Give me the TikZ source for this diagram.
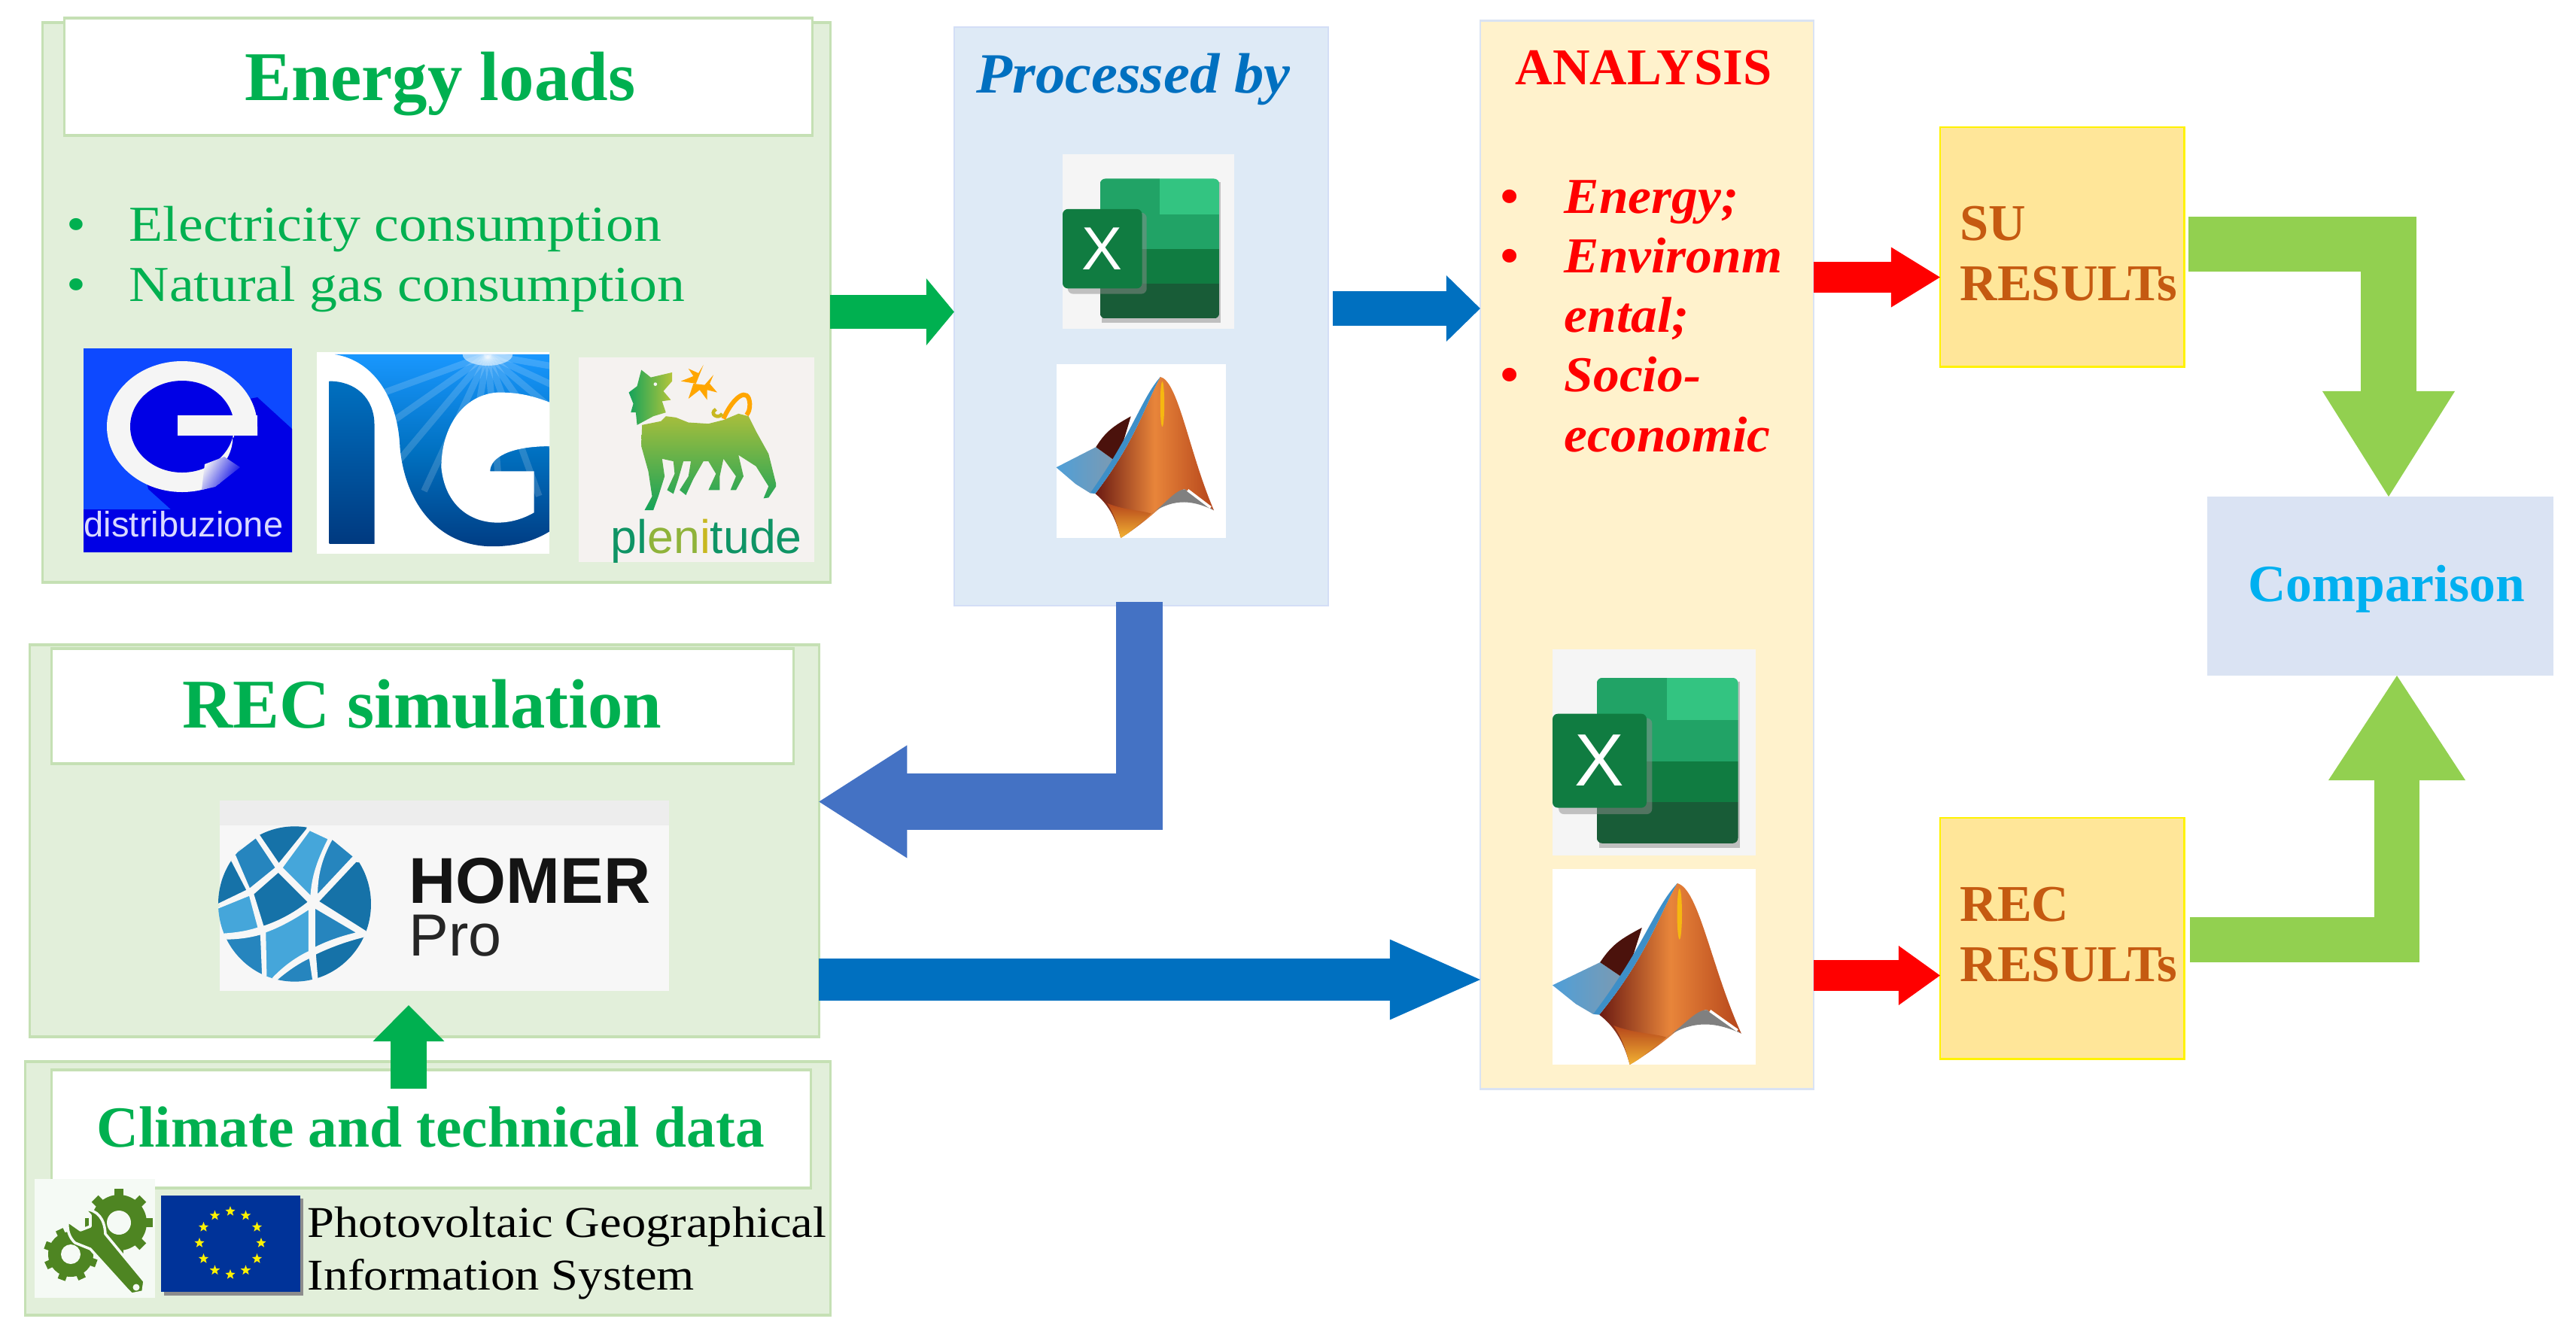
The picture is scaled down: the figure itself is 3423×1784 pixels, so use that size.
\documentclass[tikz,border=0pt]{standalone}
\usepackage{fontspec}
\setmainfont[FakeStretch=1.105,BoldFeatures={FakeStretch=1.0},BoldItalicFeatures={FakeStretch=1.04}]{Liberation Serif}
\newfontfamily\logosans{Liberation Sans}
\usetikzlibrary{arrows.meta,shapes.geometric}

\definecolor{panelgreen}{HTML}{E2EFDA}
\definecolor{panelline}{HTML}{C5E0B4}
\definecolor{headgreen}{HTML}{00B050}
\definecolor{procfill}{HTML}{DEEAF6}
\definecolor{procblue}{HTML}{0070C0}
\definecolor{anafill}{HTML}{FFF2CC}
\definecolor{anaedge}{HTML}{DAE3F3}
\definecolor{resfill}{HTML}{FFE699}
\definecolor{restext}{HTML}{C55A11}
\definecolor{compfill}{HTML}{DAE3F3}
\definecolor{compcyan}{HTML}{00B0F0}
\definecolor{limegreen}{HTML}{92D050}
\definecolor{slateblue}{HTML}{4472C4}
\definecolor{globedark}{HTML}{1672A8}
\definecolor{globemid}{HTML}{2685BE}
\definecolor{globelight}{HTML}{45A6DA}
\definecolor{toolgreen}{HTML}{4E8522}
\definecolor{flagblue}{HTML}{003399}
\definecolor{mlmaroon}{HTML}{6B1A12}
\definecolor{mlorange}{HTML}{E8853A}
\definecolor{mlbrown}{HTML}{B5451B}
\definecolor{mlyellow}{HTML}{F2B233}
\definecolor{mlblue}{HTML}{4F9FD8}
\definecolor{mlgrey}{HTML}{7E9AB0}
\definecolor{mledge}{HTML}{3D8FC8}
\definecolor{dogtop}{HTML}{A9BE3C}
\definecolor{dogbot}{HTML}{15A35A}
\definecolor{doghead}{HTML}{B5C53A}
\definecolor{plentext}{HTML}{0F9465}
\definecolor{plenmid}{HTML}{8FB33A}
\definecolor{plenyel}{HTML}{C8B820}

\tikzset{
  box/.style={rectangle,outer sep=0pt,inner sep=0pt},
  greenpanel/.style={box,fill=panelgreen,draw=panelline,line width=1pt},
  headbox/.style={box,fill=white,draw=panelline,line width=1pt},
  resbox/.style={box,fill=resfill,draw=yellow,line width=0.8pt},
  label/.style={anchor=base,inner sep=0pt},
  leftlabel/.style={anchor=base west,inner sep=0pt},
  headtext/.style={label,text=headgreen,font=\fontsize{26.4}{30}\selectfont\bfseries},
  itemtext/.style={leftlabel,text=headgreen,font=\fontsize{19}{23}\selectfont},
  anatext/.style={leftlabel,text=red,font=\fontsize{19}{23}\selectfont\bfseries\itshape},
  restxt/.style={leftlabel,text=restext,font=\fontsize{19.5}{23}\selectfont\bfseries},
  pvtext/.style={leftlabel,text=black,font=\fontsize{16.6}{19}\selectfont},
  fatarrow/.style n args={3}{line width=#1,-{Triangle[width=#2,length=#3,line width=0pt]}},
  globepatch/.style={draw=black!3,line width=0.4pt,line join=round},
}

% excel icon: name, left, top, width, height, size of the letter
\newcommand{\excellogo}[6]{
  \begin{scope}[shift={(#2,#3)},x=#4*0.01cm,y=-#5*0.01cm]
    \fill[black!4] (0,0) rectangle (1,1);
    \fill[black!25] (.228,.16) rectangle (.923,.965);
    \begin{scope}
      \clip[rounded corners=2pt] (.218,.14) rectangle (.913,.941);
      \fill[color={rgb,255:red,33;green,163;blue,102}] (.218,.14) rectangle (.564,.343);
      \fill[color={rgb,255:red,51;green,196;blue,129}] (.564,.14) rectangle (.913,.343);
      \fill[color={rgb,255:red,33;green,163;blue,102}] (.218,.343) rectangle (.913,.545);
      \fill[color={rgb,255:red,16;green,124;blue,65}] (.218,.545) rectangle (.913,.743);
      \fill[color={rgb,255:red,24;green,92;blue,55}] (.218,.743) rectangle (.913,.941);
    \end{scope}
    \fill[black!45,opacity=.5,rounded corners=2pt] (.03,.335) rectangle (.49,.8);
    \fill[color={rgb,255:red,16;green,124;blue,65},rounded corners=2pt] (0,.314) rectangle (.463,.769);
    \node[inner sep=0pt,text=white,font=\logosans\fontsize{#6}{#6}\selectfont] (#1x) at (.232,.54) {X};
  \end{scope}
}

% matlab icon: left, top, width, height
\newcommand{\matlablogo}[4]{
  \begin{scope}[shift={(#1,#2)},x=#3*0.01cm,y=-#4*0.01cm]
    \fill[white] (0,0) rectangle (1,1);
    \shade[left color=mlblue,right color=mlgrey]
      (0,.594) -- (.234,.477) -- (.359,.565) -- (.2,.742) -- (.115,.69) -- cycle;
    \fill[mlmaroon!70!black] (.234,.477) .. controls (.29,.39) and (.33,.36) .. (.44,.30) -- (.359,.565) -- cycle;
    \shade[left color=mlmaroon,right color=mlbrown,middle color=mlorange]
      (.614,.073) .. controls (.72,.1) and (.78,.5) .. (.929,.841)
      -- (.759,.72) .. controls (.70,.72) and (.62,.85) .. (.38,1)
      .. controls (.35,.88) and (.30,.80) .. (.23,.745)
      .. controls (.47,.44) and (.53,.22) .. (.614,.073) -- cycle;
    \fill[mledge] (.614,.073) .. controls (.5,.2) and (.45,.4) .. (.2,.742)
      -- (.23,.745) .. controls (.47,.44) and (.53,.22) .. (.614,.073) -- cycle;
    \fill[black!50] (.759,.72) -- (.929,.841) .. controls (.82,.79) and (.70,.76) .. (.556,.863)
      .. controls (.63,.82) and (.70,.72) .. (.759,.72) -- cycle;
    \draw[white,line width=1pt] (.775,.725) -- (.91,.825);
    \shade[top color=mlbrown,bottom color=mlyellow]
      (.30,.80) .. controls (.40,.84) and (.50,.84) .. (.56,.86) .. controls (.48,.93) and (.42,.98) .. (.38,1)
      .. controls (.36,.92) and (.34,.86) .. (.30,.80) -- cycle;
    \fill[yellow!60!orange,opacity=.8] (.625,.23) ellipse [x radius=.012,y radius=.13];
  \end{scope}
}

\begin{document}
\begin{tikzpicture}[x=0.01cm,y=-0.01cm]
  \useasboundingbox (0,0) rectangle (3423,1784);

  % Energy loads
  \node[greenpanel,minimum width=10.46cm,minimum height=7.44cm] (energy) at (580,402) {};
  \node[headbox,minimum width=9.93cm,minimum height=1.56cm] (energyhead) at (582.5,102) {};
  \node[headtext] (energytitle) at (585,133) {Energy loads};
  \node[itemtext] (elecdot) at (88,320) {•};
  \node[itemtext] (electext) at (171,320) {Electricity consumption};
  \node[itemtext] (gasdot) at (88,400) {•};
  \node[itemtext] (gastext) at (171,400) {Natural gas consumption};

  % e-distribuzione logo
  \fill[blue!75!cyan!95!white] (111,463) rectangle (388,734);
  \fill[blue!90!black] (342,528) -- (388,570) -- (388,734) -- (111,734) -- (111,677) -- (227,677) -- (197,650) -- (180,560) -- cycle;
  \fill[white!96!black,even odd rule] (342,579) -- (342,567) arc[start angle=0,end angle=-300,x radius=100,y radius=87]
    -- (300,612) arc[start angle=-330,end angle=-360,x radius=69,y radius=61] -- cycle;
  \fill[blue!90!black] (242,567) ellipse [x radius=69,y radius=61];
  \fill[white!96!black] (236,552) rectangle (342,579);
  \fill[blue!90!black] (311,579) rectangle (345,606);
  \shade[left color=white!96!black,right color=blue!90!black,shading angle=60] (272,617) -- (298,607) -- (319,621) -- (286,647) -- (268,651) -- cycle;
  \node[leftlabel,text=blue!15!white,font=\logosans\fontsize{13.4}{15}\selectfont] (edist) at (111,713) {distribuzione};

  % NG logo
  \begin{scope}[shift={(415,455)},x=0.003333cm,y=-0.003333cm]
    \fill[white] (18,40) rectangle (948,845);
    \begin{scope}
      \clip (90,48) .. controls (230,70) and (340,200) .. (350,420) .. controls (370,640) and (500,815) .. (720,815)
        .. controls (820,815) and (890,790) .. (948,755) -- (948,48) -- cycle;
      \shade[top color=cyan!55!blue!90!white,bottom color=blue!55!cyan!50!black,middle color=procblue] (18,40) rectangle (948,845);
      \foreach \a in {10,25,...,170}
        \draw[white,opacity=.16,line width=2.5pt] (700,50) -- ++(\a:600);
      \fill[white,opacity=.55] (700,48) ellipse [x radius=100,y radius=45];
    \end{scope}
    \shade[top color=procblue,bottom color=blue!55!cyan!50!black] (68,155) .. controls (170,155) and (248,220) .. (248,330) -- (248,805) -- (68,805) -- cycle;
    \fill[white] (948,240) .. controls (860,205) and (800,200) .. (740,200) .. controls (600,210) and (515,340) .. (515,500)
      .. controls (530,650) and (630,720) .. (740,720) .. controls (800,720) and (850,700) .. (885,680)
      -- (885,515) -- (710,515) .. controls (710,460) and (790,415) .. (948,415) -- cycle;
  \end{scope}

  % plenitude logo
  \fill[black!5!orange!2!white!96!black] (769,475) rectangle (1082,747);
  \begin{scope}[shift={(765,470)},x=0.003333cm,y=-0.003333cm]
    \shade[left color=dogbot,right color=doghead]
      (262,65) -- (300,95) -- (385,75) -- (385,110) -- (350,150) -- (380,185) -- (345,190) -- (360,235) -- (310,250)
      -- (245,285) -- (240,235) -- (220,235) -- (230,200) -- (212,155) -- (245,130) -- cycle;
    \shade[top color=dogtop,bottom color=dogbot]
      (265,285) -- (340,270) -- (360,250) -- (400,255) -- (450,275) -- (530,280) -- (590,265) -- (650,240) -- (690,250)
      -- (720,310) -- (770,400) -- (800,520) -- (800,530) -- (770,575) -- (750,578) -- (770,530) -- (720,450) -- (650,405)
      -- (670,490) -- (640,545) -- (618,545) -- (640,490) -- (590,420) -- (575,490) -- (575,545) -- (530,545) -- (560,480)
      -- (530,430) -- (510,430) -- (470,500) -- (440,565) -- (415,545) -- (450,490) -- (460,430) -- (430,430) -- (410,500)
      -- (390,560) -- (365,545) -- (395,480) -- (390,430) -- (345,420) -- (355,490) -- (330,570) -- (310,625) -- (275,625)
      -- (305,570) -- (290,470) -- (262,370) -- cycle;
    \fill[white!96!black] (318,122) circle (7);
    \draw[orange!70!yellow,line width=1.7pt] (590,260) .. controls (630,170) and (690,130) .. (695,200) .. controls (695,225) and (690,235) .. (682,245);
    \draw[plenyel,line width=1.3pt] (585,240) .. controls (570,265) and (530,240) .. (560,222);
    \fill[orange!70!yellow] (420,110) -- (470,90) -- (450,60) -- (490,78) -- (510,45) -- (490,95) -- (480,120) -- cycle;
    \fill[orange!70!yellow] (470,120) -- (450,180) -- (495,145) -- (525,185) -- (525,145) -- (565,155) -- (535,120) -- (550,85) -- (515,125) -- cycle;
  \end{scope}
  \node[leftlabel,font=\logosans\fontsize{17.8}{20}\selectfont] (plenitude) at (811,735) {\textcolor{plentext}{pl}\textcolor{plenmid}{en}\textcolor{plenyel}{i}\textcolor{plentext}{tude}};

  % Processed by
  \node[box,fill=procfill,draw=procfill!95!blue,line width=0.5pt,minimum width=4.97cm,minimum height=7.69cm] (proc) at (1516.5,420.5) {};
  \node[label,text=procblue,font=\fontsize{21.5}{25}\selectfont\bfseries\itshape] (proctitle) at (1506,123) {Processed by};
  \excellogo{excelone}{1412}{205}{228}{232}{23}
  \matlablogo{1403.5}{484}{225.5}{231}

  % ANALYSIS
  \node[box,fill=anafill,draw=anaedge,line width=0.7pt,minimum width=4.43cm,minimum height=14.19cm] (analysis) at (2188.5,737.5) {};
  \node[label,text=red,font=\fontsize{19.5}{23}\selectfont\bfseries] (anatitle) at (2184,112) {ANALYSIS};
  \node[anatext] (anadotone) at (1993,283) {•};
  \node[anatext] (anaenergy) at (2078,283) {Energy;};
  \node[anatext] (anadottwo) at (1993,362) {•};
  \node[anatext] (anaenv) at (2078,362) {Environm};
  \node[anatext] (anaental) at (2078,441) {ental;};
  \node[anatext] (anadotthree) at (1993,520) {•};
  \node[anatext] (anasocio) at (2078,520) {Socio-};
  \node[anatext] (anaecon) at (2078,600) {economic};
  \excellogo{exceltwo}{2063}{862.5}{270}{274.5}{28}
  \matlablogo{2063}{1155}{270}{260}

  % results
  \node[resbox,minimum width=3.24cm,minimum height=3.18cm] (su) at (2740,328) {};
  \node[restxt] (sutop) at (2604,319) {SU};
  \node[restxt] (subot) at (2604,399) {RESULTs};
  \node[resbox,minimum width=3.24cm,minimum height=3.20cm] (rec) at (2740,1247) {};
  \node[restxt] (rectop) at (2604,1224) {REC};
  \node[restxt] (recbot) at (2604,1304.5) {RESULTs};

  % Comparison
  \node[box,fill=compfill,minimum width=4.60cm,minimum height=2.38cm] (comp) at (3163,779) {};
  \node[label,text=compcyan,font=\fontsize{19.8}{23}\selectfont\bfseries] (comptext) at (3171,799) {Comparison};

  % REC simulation
  \node[greenpanel,minimum width=10.48cm,minimum height=5.21cm] (recsim) at (564,1117.5) {};
  \node[headbox,minimum width=9.85cm,minimum height=1.53cm] (rechead) at (561.5,938.5) {};
  \node[headtext] (rectitle) at (561,967.5) {REC simulation};

  % HOMER logo
  \fill[black!3] (292,1064) rectangle (889,1317);
  \fill[black!7] (292,1064) rectangle (889,1097);
  \begin{scope}[shift={(280,1085)},x=0.003333cm,y=-0.003333cm]
    \begin{scope}
      \clip (335,350) ellipse [x radius=305,y radius=310];
      \fill[globepatch,fill=globedark] (190,70) -- (230,0) -- (385,0) -- (385,50) -- (272,190) -- cycle;
      \fill[globepatch,fill=globemid] (95,150) -- (180,85) -- (260,205) -- (155,290) -- cycle;
      \fill[globepatch,fill=globedark] (0,230) -- (80,170) -- (145,295) -- (0,365) -- cycle;
      \fill[globepatch,fill=globelight] (285,205) -- (395,55) -- (470,90) .. controls (425,180) and (405,240) .. (400,320) -- cycle;
      \fill[globepatch,fill=globemid] (485,90) -- (570,160) -- (425,315) .. controls (425,240) and (440,170) .. (485,90) -- cycle;
      \fill[globepatch,fill=globedark] (580,180) -- (700,200) -- (700,470) -- (620,460) -- (430,340) -- cycle;
      \fill[globepatch,fill=globedark] (270,222) -- (390,342) .. controls (330,390) and (270,420) .. (210,440) -- (170,310) -- cycle;
      \fill[globepatch,fill=globelight] (155,315) -- (190,445) .. controls (130,465) and (70,470) .. (0,472) -- (0,378) -- cycle;
      \fill[globepatch,fill=globemid] (40,490) .. controls (100,490) and (150,485) .. (200,470) -- (208,660) -- (40,660) -- cycle;
      \fill[globepatch,fill=globelight] (218,462) .. controls (280,440) and (340,405) .. (392,370) -- (392,540) .. controls (330,570) and (280,610) .. (235,660) -- (222,660) -- cycle;
      \fill[globepatch,fill=globemid] (415,365) -- (585,465) .. controls (520,480) and (465,500) .. (415,525) -- cycle;
      \fill[globepatch,fill=globedark] (418,550) .. controls (480,520) and (550,495) .. (615,480) -- (640,700) -- (430,700) -- cycle;
      \fill[globepatch,fill=globemid] (395,565) -- (410,665) -- (400,700) -- (230,700) -- (255,660) .. controls (300,620) and (350,585) .. (395,565) -- cycle;
    \end{scope}
  \end{scope}
  \node[leftlabel,text=black!92,font=\logosans\fontsize{24.5}{27}\selectfont\bfseries] (homer) at (543,1200) {HOMER};
  \node[leftlabel,text=black!85,font=\logosans\fontsize{22.5}{26}\selectfont] (homerpro) at (543,1270) {Pro};

  % Climate and technical data
  \node[greenpanel,minimum width=10.69cm,minimum height=3.37cm] (climate) at (568.5,1579.5) {};
  \node[headbox,minimum width=10.08cm,minimum height=1.57cm] (climatehead) at (573,1500.5) {};
  \node[label,text=headgreen,font=\fontsize{22}{25}\selectfont\bfseries] (climatetitle) at (572,1524) {Climate and technical data};

  % tools icon
  \fill[green!2!white!98!black] (46,1567) rectangle (206,1725);
  \fill[toolgreen] (158,1625) circle (37);
  \fill[toolgreen] (94,1667) circle (30);
  \foreach \a in {0,45,...,315} {
    \draw[toolgreen,line width=3.6pt] (158,1625) ++(\a:33) -- ++(\a:12);
    \draw[toolgreen,line width=3pt] (94,1667) ++(\a+20:26) -- ++(\a+20:10);
  }
  \fill[green!2!white!98!black] (158,1625) circle (16);
  \fill[green!2!white!98!black] (94,1667) circle (13);
  \fill[toolgreen,draw=green!2!white!98!black,line width=1pt,line join=round]
    (112,1607) .. controls (130,1608) and (139,1620) .. (140,1640) -- (192,1703) -- (190,1717) -- (175,1720) -- (168,1713)
    -- (120,1660) -- (100,1652) .. controls (92,1645) and (89,1635) .. (90,1623) -- (107,1635) -- (120,1630) -- (120,1615) -- cycle;
  \fill[green!2!white!98!black] (181,1711) circle (4.5);

  % EU flag
  \fill[black!45] (218,1593) rectangle (403,1722);
  \fill[flagblue] (214,1589) rectangle (399,1717);
  \foreach \i in {1,...,12}
    \node[star,star points=5,star point ratio=2.4,fill=yellow,inner sep=0pt,minimum size=0.14cm] (eustar\i) at ({306+41*cos(30*\i)},{1652+42*sin(30*\i)}) {};
  \node[pvtext] (pvone) at (408,1644) {Photovoltaic Geographical};
  \node[pvtext] (pvtwo) at (408,1714) {Information System};

  % connectors
  \coordinate (procout) at (1771,410);
  \coordinate (suout) at (2908,324.5);
  \coordinate (comptop) at (3174,660);
  \coordinate (recout) at (2910,1249);
  \coordinate (compbot) at (3185,898);
  \coordinate (procdown) at (1514,800);
  \coordinate (bendout) at (1514,1103);
  \coordinate (bendleft) at (1545,1065.5);
  \coordinate (climout) at (543,1447);
  \coordinate (simin) at (543,1336);

  \draw[fatarrow={0.45cm}{0.89cm}{0.37cm},headgreen] (energy.east |- 0,414.5) -- (proc.west |- 0,414.5);
  \draw[fatarrow={0.46cm}{0.88cm}{0.45cm},procblue] (procout) -- (analysis.west |- procout);
  \draw[fatarrow={0.41cm}{0.80cm}{0.65cm},red] (analysis.east |- 0,368.5) -- (su.west |- 0,368.5);
  \draw[fatarrow={0.41cm}{0.79cm}{0.55cm},red] (analysis.east |- 0,1296.5) -- (rec.west |- 0,1296.5);
  \draw[fatarrow={0.56cm}{1.07cm}{1.20cm},procblue] (recsim.east |- 0,1302) -- (analysis.west |- 0,1302);
  \draw[fatarrow={0.48cm}{0.95cm}{0.48cm},headgreen] (climout) -- (simin);
  \draw[slateblue,line width=0.62cm] (procdown) -- (bendout);
  \draw[fatarrow={0.75cm}{1.50cm}{1.17cm},slateblue] (bendleft) -- (recsim.east |- bendleft);
  \draw[fatarrow={0.735cm}{1.76cm}{1.40cm},limegreen] (suout) -| (comptop);
  \draw[fatarrow={0.605cm}{1.82cm}{1.39cm},limegreen] (recout) -| (compbot);
\end{tikzpicture}
\end{document}
